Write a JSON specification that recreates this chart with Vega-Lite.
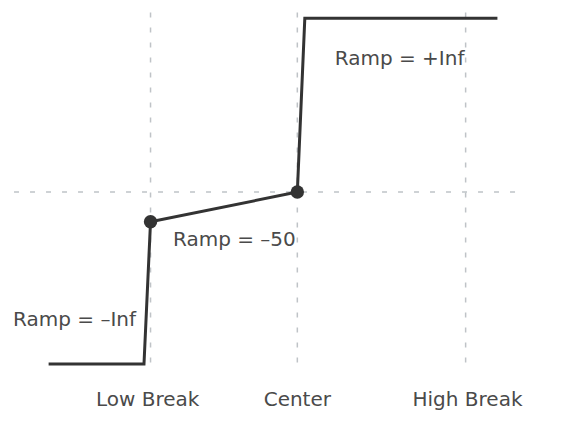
{
  "$schema": "https://vega.github.io/schema/vega-lite/v6.json",
  "width": 561,
  "height": 430,
  "autosize": "none",
  "padding": 0,
  "background": "white",
  "config": {"view": {"stroke": null}},
  "datasets": {
    "vgrid": [
      {"x": 161, "y": 13, "y2": 385},
      {"x": 318, "y": 13, "y2": 385},
      {"x": 498, "y": 13, "y2": 385}
    ],
    "hgrid": [{"x": 15, "x2": 551, "y": 201}],
    "curve": [
      {"i": 0, "x": 52, "y": 381},
      {"i": 1, "x": 154, "y": 381},
      {"i": 2, "x": 161, "y": 232},
      {"i": 3, "x": 318, "y": 201},
      {"i": 4, "x": 326, "y": 19},
      {"i": 5, "x": 532, "y": 19}
    ],
    "pts": [{"x": 161, "y": 232}, {"x": 318, "y": 201}],
    "notes": [
      {"x": 358, "y": 68, "label": "Ramp = +Inf"},
      {"x": 185, "y": 257, "label": "Ramp = –50"},
      {"x": 14, "y": 341, "label": "Ramp = –Inf"}
    ],
    "ticks": [
      {"x": 158, "y": 425, "label": "Low Break"},
      {"x": 318, "y": 425, "label": "Center"},
      {"x": 500, "y": 425, "label": "High Break"}
    ]
  },
  "layer": [
    {
      "data": {"name": "vgrid"},
      "mark": {"type": "rule", "color": "#bfc3c7", "strokeWidth": 1.5, "strokeDash": [5, 10]},
      "encoding": {
        "x": {"field": "x", "type": "quantitative", "scale": {"domain": [0, 561]}, "axis": null},
        "y": {"field": "y", "type": "quantitative", "scale": {"domain": [0, 430], "reverse": true}, "axis": null},
        "y2": {"field": "y2"}
      }
    },
    {
      "data": {"name": "hgrid"},
      "mark": {"type": "rule", "color": "#bfc3c7", "strokeWidth": 1.5, "strokeDash": [5, 11]},
      "encoding": {
        "x": {"field": "x", "type": "quantitative"},
        "x2": {"field": "x2"},
        "y": {"field": "y", "type": "quantitative"}
      }
    },
    {
      "data": {"name": "curve"},
      "mark": {"type": "line", "color": "#333333", "strokeWidth": 3, "strokeJoin": "miter"},
      "encoding": {
        "x": {"field": "x", "type": "quantitative"},
        "y": {"field": "y", "type": "quantitative"},
        "order": {"field": "i", "type": "quantitative"}
      }
    },
    {
      "data": {"name": "pts"},
      "mark": {"type": "point", "filled": true, "color": "#333333", "opacity": 1, "size": 180},
      "encoding": {
        "x": {"field": "x", "type": "quantitative"},
        "y": {"field": "y", "type": "quantitative"}
      }
    },
    {
      "data": {"name": "notes"},
      "mark": {"type": "text", "align": "left", "baseline": "alphabetic", "font": "DejaVu Sans", "fontSize": 20, "color": "#4a4a4a"},
      "encoding": {
        "x": {"field": "x", "type": "quantitative"},
        "y": {"field": "y", "type": "quantitative"},
        "text": {"field": "label"}
      }
    },
    {
      "data": {"name": "ticks"},
      "mark": {"type": "text", "align": "center", "baseline": "alphabetic", "font": "DejaVu Sans", "fontSize": 20, "color": "#4a4a4a"},
      "encoding": {
        "x": {"field": "x", "type": "quantitative"},
        "y": {"field": "y", "type": "quantitative"},
        "text": {"field": "label"}
      }
    }
  ]
}
